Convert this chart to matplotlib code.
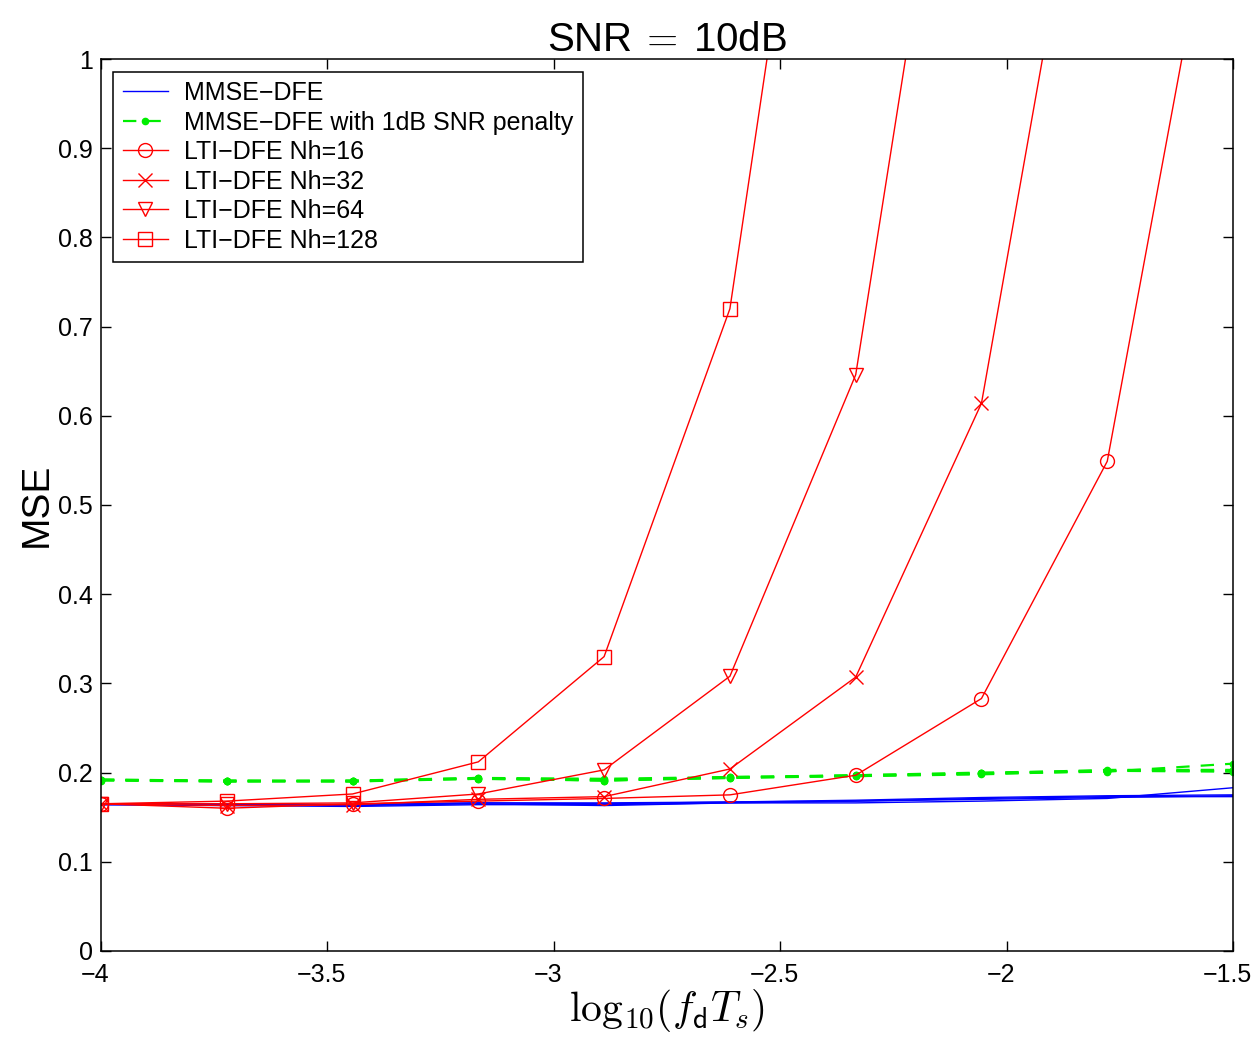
import matplotlib
matplotlib.use('Agg')
import matplotlib.pyplot as plt
import matplotlib.transforms as mtransforms

plt.rcParams['font.family'] = ['Liberation Sans', 'DejaVu Sans']
plt.rcParams['mathtext.fontset'] = 'cm'

# log10(fd*Ts) grid
x = [-4.0, -3.7222, -3.4444, -3.1667, -2.8889, -2.6111, -2.3333, -2.0556, -1.7778, -1.5]

# MMSE-DFE curves (one per run, drawn on top of each other)
mmse_a = [0.164, 0.164, 0.163, 0.165, 0.163, 0.166, 0.166, 0.168, 0.171, 0.183]
mmse_b = [0.165, 0.165, 0.164, 0.166, 0.165, 0.167, 0.168, 0.170, 0.172, 0.174]
mmse_c = [0.164, 0.163, 0.162, 0.164, 0.164, 0.166, 0.168, 0.171, 0.173, 0.173]
mmse_d = [0.165, 0.164, 0.164, 0.166, 0.166, 0.167, 0.169, 0.172, 0.174, 0.175]

# MMSE-DFE with 1dB SNR penalty
pen_a = [0.192, 0.190, 0.190, 0.193, 0.191, 0.194, 0.197, 0.200, 0.202, 0.202]
pen_b = [0.192, 0.191, 0.191, 0.194, 0.193, 0.195, 0.196, 0.199, 0.201, 0.210]
pen_c = [0.191, 0.190, 0.191, 0.193, 0.192, 0.194, 0.196, 0.198, 0.202, 0.201]
pen_d = [0.192, 0.191, 0.190, 0.194, 0.191, 0.195, 0.197, 0.199, 0.203, 0.203]

# LTI-DFE curves
lti_16 = [0.165, 0.160, 0.165, 0.168, 0.171, 0.175, 0.197, 0.283, 0.549, 1.31]
lti_32 = [0.165, 0.163, 0.164, 0.170, 0.173, 0.204, 0.307, 0.614, 1.41, 2.6]
lti_64 = [0.165, 0.165, 0.166, 0.176, 0.203, 0.308, 0.646, 1.54, 3.0, 5.0]
lti_128 = [0.165, 0.168, 0.176, 0.212, 0.330, 0.720, 1.67, 3.5, 6.0, 9.0]

fig = plt.figure(figsize=(12.54, 10.41), dpi=100)
ax = fig.add_axes([0.0805, 0.0865, 0.9028, 0.8568])

for i, y in enumerate([mmse_a, mmse_b, mmse_c, mmse_d]):
    ax.plot(x, y, color='blue', lw=1.0, label='MMSE\u2212DFE' if i == 0 else None)

for i, y in enumerate([pen_a, pen_b, pen_c, pen_d]):
    ax.plot(x, y, color='#00ee00', lw=1.6, ls='--', dashes=(6, 5), marker='.',
            markersize=9, label='MMSE\u2212DFE with 1dB SNR penalty' if i == 0 else None)

red_series = [(lti_16, 'o', 'LTI\u2212DFE Nh=16'),
              (lti_32, 'x', 'LTI\u2212DFE Nh=32'),
              (lti_64, 'v', 'LTI\u2212DFE Nh=64'),
              (lti_128, 's', 'LTI\u2212DFE Nh=128')]
for y, m, lab in red_series:
    ax.plot(x, y, color='red', lw=1.0, marker=m, markersize=10,
            markerfacecolor='none', markeredgecolor='red', markeredgewidth=1.0, label=lab)

ax.set_xlim(-4, -1.5)
ax.set_ylim(0, 1)
ax.set_xticks([-4, -3.5, -3, -2.5, -2, -1.5])
ax.set_xticklabels(['\u22124', '\u22123.5', '\u22123', '\u22122.5', '\u22122', '\u22121.5'])
ax.set_yticks([0, 0.1, 0.2, 0.3, 0.4, 0.5, 0.6, 0.7, 0.8, 0.9, 1])
ax.set_yticklabels(['0', '0.1', '0.2', '0.3', '0.4', '0.5', '0.6', '0.7', '0.8', '0.9', '1'])
ax.tick_params(direction='in', top=True, right=True, length=7, width=1.0, labelsize=18)
ax.tick_params(axis='x', pad=9)
ax.tick_params(axis='y', pad=6)
for s in ax.spines.values():
    s.set_linewidth(1.1)

# MATLAB-style x tick labels sit a little left of their ticks
shift = mtransforms.ScaledTranslation(-6 / 100, 0, fig.dpi_scale_trans)
for lbl in ax.get_xticklabels():
    lbl.set_transform(lbl.get_transform() + shift)

ax.set_title(r'SNR$\:=\:$10dB', fontsize=29, pad=6)
ax.set_ylabel('MSE', fontsize=28, labelpad=2)
ax.set_xlabel(r'$\mathrm{log}_{10}(f_{\mathsf{d}}T_s)$', fontsize=30, labelpad=0)

leg = ax.legend(loc='upper left', fontsize=18, fancybox=False, edgecolor='black',
                framealpha=1, borderaxespad=0.5, labelspacing=0.22, handlelength=1.8,
                handletextpad=0.65, borderpad=0.38)
leg.get_frame().set_linewidth(1.1)

fig.savefig('out.png', dpi=100)
